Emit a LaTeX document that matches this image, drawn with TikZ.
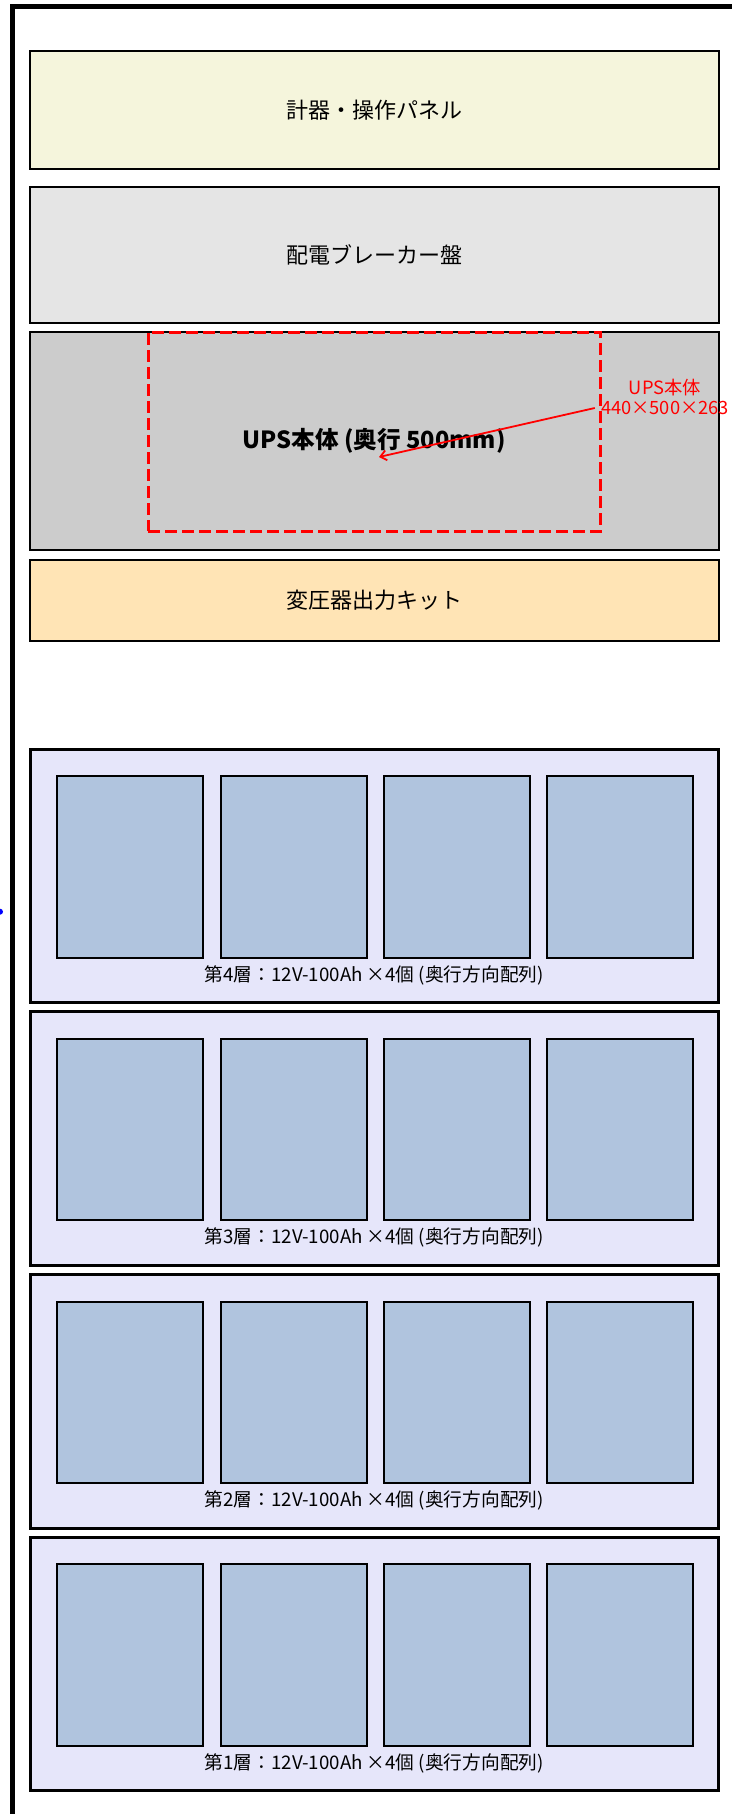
\documentclass[tikz,border=0pt]{standalone}
\usepackage{fontspec}
\setmainfont{Noto Sans CJK JP}
\usetikzlibrary{arrows.meta}
\definecolor{meterfill}{HTML}{F5F5DC}
\definecolor{breakerfill}{HTML}{E5E5E5}
\definecolor{upsfill}{HTML}{CCCCCC}
\definecolor{transfill}{HTML}{FFE4B5}
\definecolor{layerfill}{HTML}{E6E6FA}
\definecolor{battfill}{HTML}{B0C4DE}
\definecolor{dimred}{HTML}{FF0000}
\begin{document}
\begin{tikzpicture}[x=1pt,y=-1pt,
  panel/.style={draw=black, line width=2pt, minimum width=688.5pt, inner sep=0pt,
    font=\fontsize{22}{26}\selectfont},
  layerbox/.style={draw=black, line width=3pt, fill=layerfill, minimum width=688.5pt,
    minimum height=253.5pt, inner sep=0pt},
  battbox/.style={draw=black, line width=2pt, fill=battfill, minimum width=146pt,
    minimum height=181.5pt, inner sep=0pt},
  layerlabel/.style={inner sep=0pt, font=\fontsize{18.7}{22}\selectfont},
  dimtext/.style={text=dimred, inner sep=3pt, font=\fontsize{18.3}{21}\selectfont}]
\useasboundingbox (0,0) rectangle (731,1814);
% outer frame (clipped at right and bottom)
\draw[line width=5pt] (12,1840) -- (12,6.5) -- (760,6.5);
% top panels
\node[panel, fill=meterfill, minimum height=118pt] (meter) at (374.25,110) {計器・操作パネル};
\node[panel, fill=breakerfill, minimum height=136pt] (breaker) at (374.25,255) {配電ブレーカー盤};
\node[panel, fill=upsfill, minimum height=217.5pt, font=\bfseries\fontsize{23.6}{27}\selectfont] (ups) at (374.25,440.75) {UPS本体 (奥行 500mm)};
\node[draw=dimred, line width=3pt, dash pattern=on 12pt off 5pt, minimum width=452.5pt, minimum height=199pt, inner sep=0pt] (upsbody) at (374.25,431.5) {};
\node[panel, fill=transfill, minimum height=81pt] (trans) at (374.25,600) {変圧器出力キット};
% dimension label and arrow
\node[dimtext] (dimA) at (665,388) {UPS本体};
\node[dimtext] (dimB) at (665,408) {440×500×263};
\coordinate (tip) at (379,457);
\draw[dimred, line width=1.8pt, -{Straight Barb[length=6pt,width=10pt]}] ([xshift=-3pt]dimB.west) -- (tip);
% battery layers
\foreach \k/\n in {0/4,1/3,2/2,3/1}{
  \pgfmathsetmacro{\top}{749+262.8*\k}
  \pgfmathsetmacro{\cy}{\top+126.75}
  \pgfmathsetmacro{\by}{\top+117.75}
  \pgfmathsetmacro{\ly}{\top+226}
  \node[layerbox] (layer\n) at (374.25,\cy) {};
  \foreach \i/\bx in {1/130,2/293.5,3/456.5,4/619.5}{
    \node[battbox] (batt\n-\i) at (\bx,\by) {};
  }
  \node[layerlabel] (label\n) at (374.25,\ly) {第\n 層：12V-100Ah ×4個 (奥行方向配列)};
}
% blue fragment at left edge
\fill[blue] (0,911.7) circle (3pt);
\end{tikzpicture}
\end{document}
